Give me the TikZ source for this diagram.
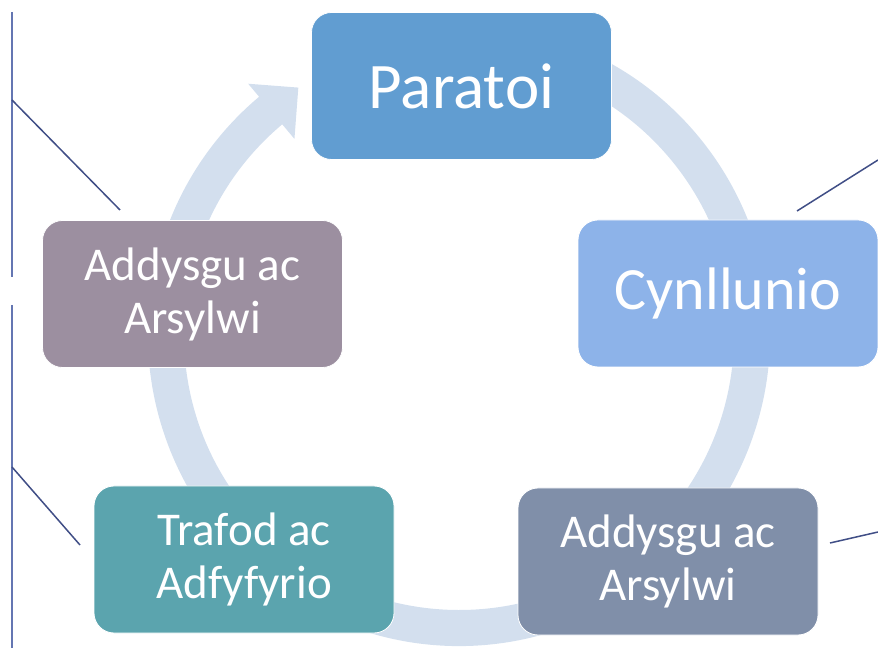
\documentclass[tikz,border=0pt]{standalone}
\usepackage{fontspec}
\setmainfont{Carlito}
\definecolor{arcblue}{RGB}{211,223,238}
\definecolor{prepblue}{RGB}{97,157,209}
\definecolor{planblue}{RGB}{141,179,233}
\definecolor{teachgray}{RGB}{128,143,169}
\definecolor{talkteal}{RGB}{91,164,174}
\definecolor{watchmauve}{RGB}{156,143,160}
\definecolor{rulenavy}{RGB}{64,78,134}
\definecolor{ruleblue}{RGB}{100,118,178}

\begin{document}
\begin{tikzpicture}[x=0.5pt, y=0.5pt,
    box/.style={rounded corners=10pt, draw=white, line width=0.4pt, text=white,
      minimum width=150pt, minimum height=73.5pt, inner sep=0pt, align=center},
    bigtext/.style={font=\fontsize{32.5}{36}\selectfont},
    midtext/.style={font=\fontsize{30}{34}\selectfont},
    smalltext/.style={font=\fontsize{23.5}{26.5}\selectfont},
    edge/.style={rulenavy, line width=0.75pt},
    spine/.style={ruleblue, line width=1pt}]
        \useasboundingbox (0, 0) rectangle (878, 648);

        \fill[arcblue, shift={(459, 313)}]
            (70:311) arc[start angle=70, end angle=-230, radius=311]
            -- (-230:328) -- (-237:295) -- (-230:256) -- (-230:275)
            arc[start angle=-230, end angle=70, radius=275] -- cycle;

        \node[box, fill=prepblue, bigtext] (prep) at (461.5, 562) {Paratoi};
        \node[box, fill=planblue, midtext] (plan) at (728, 354.5) {Cynllunio};
        \node[box, fill=teachgray, smalltext] (teachR) at (668, 86.5) {Addysgu ac\\Arsylwi};
        \node[box, fill=talkteal, smalltext] (talk) at (244, 88.5) {Trafod ac\\Adfyfyrio};
        \node[box, fill=watchmauve, smalltext] (teachL) at (192.5, 354) {Addysgu ac\\Arsylwi};

        \coordinate (s1) at (12, 636);
        \coordinate (s2) at (12, 371);
        \coordinate (s3) at (12, 343);
        \coordinate (s4) at (12, 0);
        \coordinate (a1) at (12, 548);
        \coordinate (a2) at (120, 438);
        \coordinate (b1) at (12, 181);
        \coordinate (b2) at (80, 103);
        \coordinate (c1) at (878, 488);
        \coordinate (c2) at (797, 437);
        \coordinate (d1) at (878, 116);
        \coordinate (d2) at (830, 105);

        \draw[spine] (s1) -- (s2);
        \draw[spine] (s3) -- (s4);
        \draw[edge] (a1) -- (a2);
        \draw[edge] (b1) -- (b2);
        \draw[edge] (c1) -- (c2);
        \draw[edge] (d1) -- (d2);
\end{tikzpicture}
\end{document}
